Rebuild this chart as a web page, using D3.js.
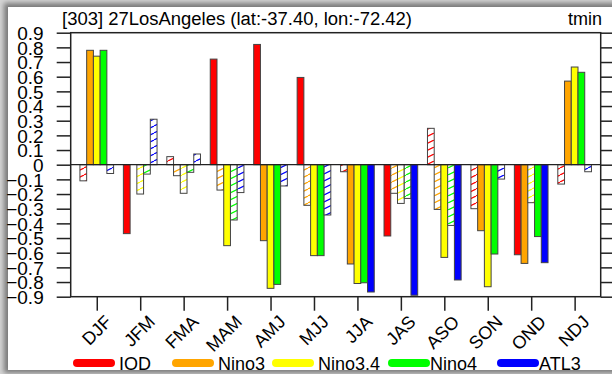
<!DOCTYPE html>
<html lang="en">
<head>
    <meta charset="UTF-8">
    <title>tmin correlations</title>
    <script src="https://cdnjs.cloudflare.com/ajax/libs/d3/7.8.5/d3.min.js"></script>
</head>

<style>
body { margin: 0; background: #fff; }
text { font-family: "Liberation Sans", Arial, sans-serif; fill: #000; }
</style>

<body>
<script>

    // seasons on the x axis
    var seasons = ["DJF", "JFM", "FMA", "MAM", "AMJ", "MJJ", "JJA", "JAS", "ASO", "SON", "OND", "NDJ"];
    var yTicks = [0.9, 0.8, 0.7, 0.6, 0.5, 0.4, 0.3, 0.2, 0.1, 0, -0.1, -0.2, -0.3, -0.4, -0.5, -0.6, -0.7, -0.8, -0.9];

    // correlation per index
    var iod    = [-0.11, -0.47, 0.055, 0.72, 0.82, 0.595, -0.048, -0.486, 0.248, -0.30, -0.614, -0.132];
    var nino3  = [0.78, 0.0, -0.075, -0.173, -0.518, -0.277, -0.677, -0.195, -0.305, -0.45, -0.673, 0.57];
    var nino34 = [0.74, -0.2, -0.195, -0.552, -0.843, -0.62, -0.81, -0.264, -0.632, -0.832, -0.259, 0.666];
    var nino4  = [0.78, -0.064, -0.052, -0.377, -0.816, -0.62, -0.805, -0.23, -0.414, -0.609, -0.49, 0.63];
    var atl3   = [-0.06, 0.31, 0.073, -0.19, -0.145, -0.343, -0.868, -0.89, -0.786, -0.098, -0.668, -0.048];

    // 1 = significant (solid), 0 = hatched
    var iodSig    = [0, 1, 0, 1, 1, 1, 0, 1, 0, 0, 1, 0];
    var nino3Sig  = [1, 0, 0, 0, 1, 0, 1, 0, 0, 1, 1, 1];
    var nino34Sig = [1, 0, 0, 1, 1, 1, 1, 0, 1, 1, 0, 1];
    var nino4Sig  = [1, 0, 0, 0, 1, 1, 1, 0, 0, 1, 1, 1];
    var atl3Sig   = [0, 0, 0, 0, 0, 0, 1, 1, 1, 0, 1, 0];

    var names  = ["IOD", "Nino3", "Nino3.4", "Nino4", "ATL3"];
    var colors = ["#ff0000", "#ffa500", "#ffff00", "#00ff00", "#0000ff"];

    var series = [
        {name: names[0], color: colors[0], values: iod, sig: iodSig},
        {name: names[1], color: colors[1], values: nino3, sig: nino3Sig},
        {name: names[2], color: colors[2], values: nino34, sig: nino34Sig},
        {name: names[3], color: colors[3], values: nino4, sig: nino4Sig},
        {name: names[4], color: colors[4], values: atl3, sig: atl3Sig}
    ];

    var W = 612, H = 374;
    var plot = {left: 70.7, right: 600.7, top: 32.7, bottom: 296.7};

    var x = d3.scaleLinear().domain([0.4, 12.6]).range([plot.left, plot.right]);
    var y = d3.scaleLinear().domain([-0.9, 0.9]).range([plot.bottom, plot.top]);
    var barW = 0.155;

    var svg = d3.select("body").append("svg")
        .attr("width", W)
        .attr("height", H);

    var defs = svg.append("defs");

    defs.append("filter")
        .attr("id", "shadow")
        .attr("x", "-10%").attr("y", "-10%")
        .attr("width", "120%").attr("height", "120%")
        .append("feGaussianBlur")
        .attr("stdDeviation", 2.5);

    // hatch pattern for each colour
    series.forEach(function(s, i) {
        var p = defs.append("pattern")
            .attr("id", "hatch" + i)
            .attr("patternUnits", "userSpaceOnUse")
            .attr("width", 14)
            .attr("height", 7);
        p.append("rect").attr("width", 14).attr("height", 7).attr("fill", "#fff");
        p.append("path")
            .attr("d", "M0,7 L14,0 M-14,7 L0,0 M14,7 L28,0")
            .attr("stroke", s.color)
            .attr("stroke-width", 1.2);
    });

    // card + soft grey frame
    svg.append("rect")
        .attr("width", W).attr("height", H)
        .style("fill", "#d4d4d4");
    svg.append("rect")
        .attr("x", 4).attr("y", 3)
        .attr("width", 640).attr("height", 370)
        .style("fill", "#7a7a7a")
        .attr("filter", "url(#shadow)");
    svg.append("rect")
        .attr("x", 8).attr("y", 7)
        .attr("width", 620).attr("height", 363)
        .style("fill", "#fff");

    // bars
    var groups = svg.selectAll("g.series")
        .data(series)
        .enter()
        .append("g")
        .attr("class", "series");

    groups.each(function(s, si) {
        d3.select(this).selectAll("rect")
            .data(s.values.map(function(v, k) { return {v: v, k: k, sig: s.sig[k]}; }))
            .enter()
            .append("rect")
            .attr("x", function(d) { return x(d.k + 1 + (si - 2.5) * barW); })
            .attr("width", x(barW) - x(0))
            .attr("y", function(d) { return y(Math.max(0, d.v)); })
            .attr("height", function(d) { return Math.abs(y(d.v) - y(0)); })
            .style("fill", function(d) { return d.sig ? s.color : "url(#hatch" + si + ")"; })
            .style("stroke", "#444")
            .style("stroke-width", 1);
    });

    // zero line
    svg.append("line")
        .attr("x1", plot.left).attr("x2", plot.right)
        .attr("y1", y(0)).attr("y2", y(0))
        .style("stroke", "#222")
        .style("stroke-width", 1.2);

    // frame
    svg.append("rect")
        .attr("x", plot.left).attr("y", plot.top)
        .attr("width", plot.right - plot.left)
        .attr("height", plot.bottom - plot.top)
        .style("fill", "none")
        .style("stroke", "#222")
        .style("stroke-width", 1.5);

    // left axis
    var yAxis = svg.append("g")
        .attr("transform", "translate(" + plot.left + ",0)")
        .call(d3.axisLeft(y).tickValues(yTicks).tickSize(14).tickPadding(13)
            .tickFormat(function(d) { return d === 0 ? "0" : d3.format(".1f")(d); }));
    yAxis.select(".domain").remove();
    yAxis.selectAll("line").style("stroke", "#222").style("stroke-width", 1.5);
    yAxis.selectAll("text")
        .style("font-family", "'Liberation Sans', Arial, sans-serif")
        .style("font-size", "19px")
        .attr("dy", "0.36em");

    // right axis ticks
    var rAxis = svg.append("g")
        .attr("transform", "translate(" + plot.right + ",0)")
        .call(d3.axisRight(y).tickValues(yTicks).tickSize(14).tickFormat(""));
    rAxis.select(".domain").remove();
    rAxis.selectAll("line").style("stroke", "#222").style("stroke-width", 1.5);

    // bottom axis
    var xAxis = svg.append("g")
        .attr("transform", "translate(0," + plot.bottom + ")")
        .call(d3.axisBottom(x).tickValues(d3.range(1, 13)).tickSize(14).tickFormat(""));
    xAxis.select(".domain").remove();
    xAxis.selectAll("line").style("stroke", "#222").style("stroke-width", 1.5);

    svg.selectAll("text.season")
        .data(seasons)
        .enter()
        .append("text")
        .attr("class", "season")
        .attr("transform", function(d, i) {
            return "translate(" + (x(i + 1) + 16) + "," + 323 + ") rotate(-45)";
        })
        .attr("text-anchor", "end")
        .style("font-size", "18px")
        .text(function(d) { return d; });

    // titles
    svg.append("text")
        .attr("x", 62).attr("y", 25)
        .style("font-size", "18px")
        .attr("textLength", 350)
        .attr("lengthAdjust", "spacingAndGlyphs")
        .text("[303] 27LosAngeles (lat:-37.40, lon:-72.42)");

    svg.append("text")
        .attr("x", 602).attr("y", 25)
        .attr("text-anchor", "end")
        .style("font-size", "18px")
        .text("tmin");

    // legend
    var legX = [73, 172, 272, 388, 497];
    var leg = svg.selectAll("g.legend")
        .data(series)
        .enter()
        .append("g")
        .attr("class", "legend")
        .attr("transform", function(d, i) { return "translate(" + legX[i] + ",363)"; });

    leg.append("line")
        .attr("x1", 4).attr("x2", 38)
        .attr("y1", 0).attr("y2", 0)
        .style("stroke", function(d) { return d.color; })
        .style("stroke-width", 8)
        .style("stroke-linecap", "round");

    leg.append("text")
        .attr("x", function(d, i) { return i === 3 || i === 4 ? 42 : 46; })
        .attr("y", 6.5)
        .style("font-size", "18px")
        .text(function(d) { return d.name; });

</script>
</body>
</html>
